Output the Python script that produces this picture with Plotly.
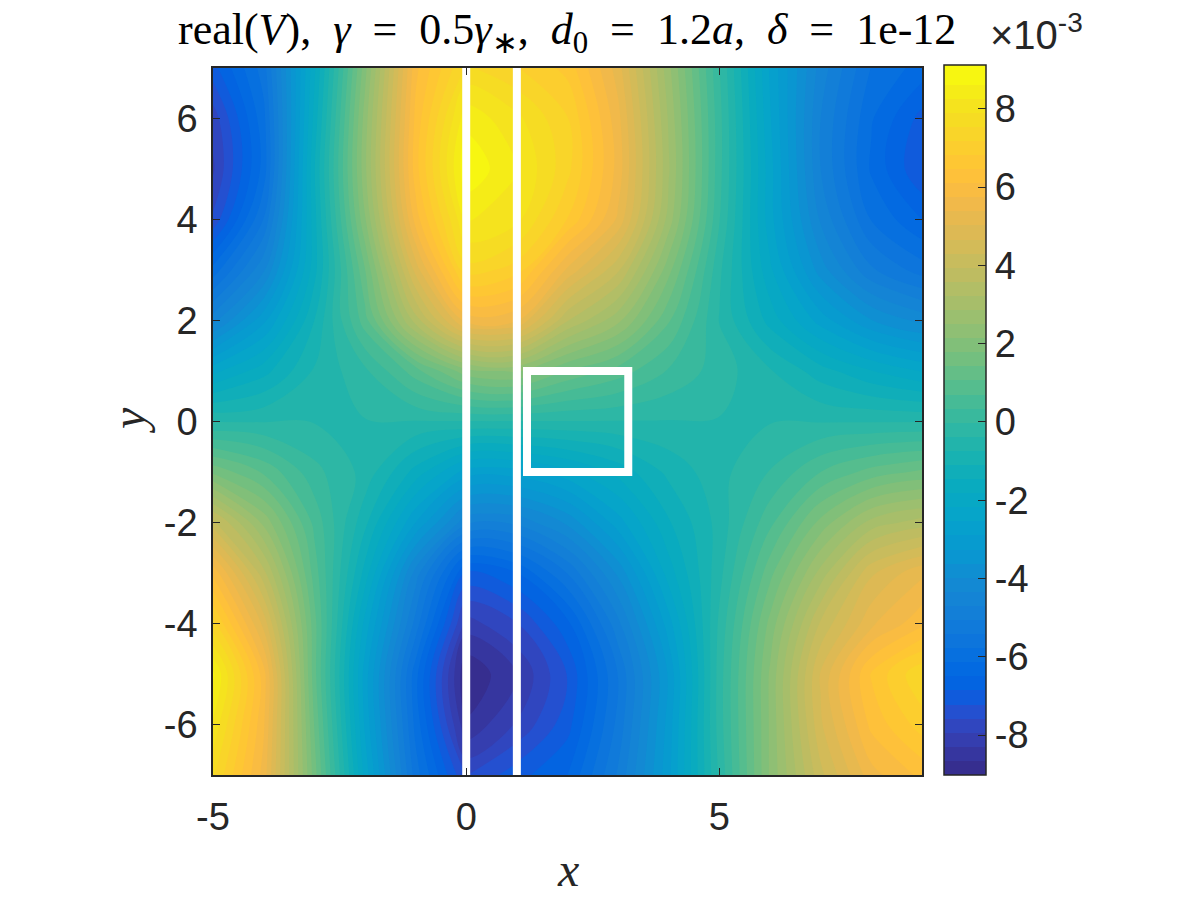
import plotly.graph_objects as go

x_values = [-5, -4, -3, -2, -1, 0, 1, 2, 3, 4, 5, 6, 7, 8, 9]
y_values = [7, 6, 5, 4, 3, 2, 1, 0, -1, -2, -3, -4, -5, -6, -7]
z_rows = [
    [-7.0, -5.6, -1.9, 2.0, 6.0, 7.6, 7.2, 6.7, 5.2, 2.6, 0.0, -2.6, -4.5, -5.8, -6.3],
    [-7.8, -5.9, -1.7, 2.3, 6.2, 8.5, 8.0, 7.2, 5.5, 2.8, 0.1, -2.5, -4.7, -6.1, -7.0],
    [-8.0, -6.0, -1.5, 2.4, 6.3, 8.9, 8.3, 7.3, 5.6, 2.9, 0.1, -2.4, -4.7, -6.2, -7.2],
    [-7.5, -5.4, -1.6, 2.1, 5.9, 8.3, 8.0, 6.8, 5.3, 2.7, 0.0, -2.4, -4.4, -5.8, -6.5],
    [-6.0, -4.4, -1.6, 1.4, 4.8, 7.4, 7.0, 5.3, 4.0, 1.9, -0.3, -2.1, -3.8, -5.0, -5.6],
    [-4.5, -3.0, -1.1, 0.9, 3.4, 5.5, 5.4, 3.6, 2.6, 1.1, -0.4, -1.6, -2.7, -3.6, -4.1],
    [-2.3, -1.6, -0.7, -0.1, 0.9, 2.0, 2.2, 1.4, 0.9, 0.3, -0.2, -0.7, -1.3, -1.8, -2.2],
    [-0.4, -0.4, -0.4, -0.4, -0.4, -0.4, -0.4, -0.4, -0.4, -0.4, -0.4, -0.4, -0.4, -0.4, -0.4],
    [1.7, 1.0, 0.1, -0.5, -1.6, -2.7, -2.7, -2.3, -1.7, -1.0, -0.5, 0.0, 0.7, 1.2, 1.5],
    [4.1, 2.4, 0.6, -1.0, -2.9, -4.6, -4.6, -3.9, -2.7, -1.5, -0.6, 0.6, 1.9, 3.0, 3.4],
    [6.0, 3.7, 0.9, -1.6, -4.5, -6.9, -6.5, -5.4, -3.9, -2.0, -0.5, 1.3, 3.0, 4.6, 5.3],
    [7.3, 4.9, 1.2, -2.3, -5.2, -8.1, -7.6, -6.6, -4.8, -2.7, -0.3, 1.9, 4.0, 5.3, 6.0],
    [8.7, 5.9, 1.2, -2.7, -6.0, -9.0, -8.3, -7.2, -5.4, -3.2, -0.2, 2.2, 4.7, 6.5, 7.5],
    [8.2, 5.8, 1.4, -2.6, -5.9, -8.6, -7.9, -7.0, -5.3, -3.1, -0.2, 2.2, 4.6, 6.2, 7.0],
    [7.6, 5.6, 1.6, -2.3, -5.6, -7.6, -7.0, -6.5, -5.0, -3.0, -0.3, 2.2, 4.2, 5.6, 6.2],
]
wall_x = [0, 1]
wall_y = [-7, 7]
box_x = [1.2, 3.2, 3.2, 1.2, 1.2, 3.2]
box_y = [-1, -1, 1, 1, -1, -1]
x_ticks = [-5, 0, 5]
y_ticks = [-6, -4, -2, 0, 2, 4, 6]
cbar_ticks = [-8, -6, -4, -2, 0, 2, 4, 6, 8]
z_min = -9.02
z_max = 9.12
parula = [
(.2081,.1663,.5292),(.2116,.1898,.5777),(.2123,.2138,.6270),(.2081,.2386,.6771),(.1959,.2645,.7279),(.1707,.2919,.7792),(.1253,.3242,.8303),(.0591,.3598,.8683),
(.0117,.3875,.8820),(.0060,.4086,.8828),(.0165,.4266,.8786),(.0329,.4430,.8720),(.0498,.4586,.8641),(.0629,.4737,.8554),(.0723,.4887,.8467),(.0779,.5040,.8384),
(.0793,.5200,.8312),(.0749,.5375,.8263),(.0641,.5570,.8240),(.0488,.5772,.8228),(.0343,.5966,.8199),(.0265,.6137,.8135),(.0239,.6287,.8038),(.0231,.6418,.7913),
(.0228,.6535,.7768),(.0267,.6642,.7607),(.0384,.6743,.7436),(.0590,.6838,.7254),(.0843,.6928,.7062),(.1133,.7015,.6859),(.1453,.7098,.6646),(.1801,.7177,.6424),
(.2178,.7250,.6193),(.2586,.7317,.5954),(.3022,.7376,.5712),(.3482,.7424,.5473),(.3953,.7459,.5244),(.4420,.7481,.5033),(.4871,.7491,.4840),(.5300,.7491,.4661),
(.5709,.7485,.4494),(.6099,.7473,.4337),(.6473,.7456,.4188),(.6834,.7435,.4044),(.7184,.7411,.3905),(.7525,.7384,.3768),(.7858,.7356,.3633),(.8185,.7327,.3498),
(.8507,.7299,.3360),(.8824,.7274,.3217),(.9139,.7258,.3063),(.9450,.7261,.2886),(.9739,.7314,.2666),(.9938,.7455,.2403),(.9990,.7653,.2164),(.9955,.7861,.1967),
(.9880,.8066,.1794),(.9789,.8271,.1633),(.9697,.8481,.1475),(.9626,.8705,.1309),(.9589,.8949,.1132),(.9598,.9218,.0948),(.9661,.9514,.0755),(.9763,.9831,.0538)]
colorscale = [[i / 63, "rgb(%d,%d,%d)" % tuple(round(c * 255) for c in p)] for i, p in enumerate(parula)]

INK = "#262626"
W, H = 1200, 900
ML, MR, MT, MB = 10, 10, 10, 10
def px(v):
    return (v - ML) / (W - ML - MR)
def py(v):
    return 1 - (v - MT) / (H - MT - MB)

fig = go.Figure()
fig.add_trace(go.Contour(
    x=x_values, y=y_values, z=z_rows, colorscale=colorscale, zmin=z_min, zmax=z_max,
    autocontour=False, contours=dict(start=z_min, end=z_max, size=0.36, coloring="fill", showlines=False),
    line=dict(width=0), hoverinfo="skip",
    colorbar=dict(
        x=px(944), xanchor="left", xpad=0, y=py(65), yanchor="top", ypad=0,
        lenmode="pixels", len=710, thicknessmode="pixels", thickness=42,
        tickvals=cbar_ticks, ticktext=[str(t) for t in cbar_ticks], ticks="inside", ticklen=8,
        tickcolor=INK, tickwidth=1, outlinecolor=INK, outlinewidth=1.5, ticklabelposition="outside",
        tickfont=dict(family="Liberation Sans", size=38, color=INK))))
for wx in wall_x:
    fig.add_trace(go.Scatter(x=[wx, wx], y=wall_y, mode="lines", line=dict(color="white", width=8),
                             showlegend=False, hoverinfo="skip"))
fig.add_trace(go.Scatter(x=box_x, y=box_y, mode="lines", line=dict(color="white", width=8, simplify=False),
                         showlegend=False, hoverinfo="skip"))
axis_style = dict(showgrid=False, zeroline=False, ticks="inside", ticklen=7, tickwidth=1, tickcolor=INK,
                  showline=True, linecolor=INK, linewidth=1.5, mirror="ticks",
                  tickfont=dict(family="Liberation Sans", size=38, color=INK))
sp = "\u00a0"
title = (f"real(<i>V</i>),{sp}{sp}<i>γ</i>{sp}{sp}={sp}{sp}0.5<i>γ</i><sub>∗</sub>,{sp}{sp}<i>d</i><sub>0</sub>{sp}{sp}={sp}{sp}1.2<i>a</i>,"
         f"{sp}{sp}<i>δ</i>{sp}{sp}={sp}{sp}1e-12")
fig.update_layout(
    width=W, height=H, margin=dict(l=ML, r=MR, t=MT, b=MB, autoexpand=False), paper_bgcolor="white", plot_bgcolor="white",
    showlegend=False,
    xaxis=dict(domain=[px(213), px(922)], range=[-5, 9], tickvals=x_ticks, ticktext=[str(t) for t in x_ticks], ticklabelstandoff=8, **axis_style),
    yaxis=dict(domain=[py(775), py(68)], range=[-7, 7], tickvals=y_ticks, ticktext=[str(t) for t in y_ticks], ticklabelstandoff=6, **axis_style),
    annotations=[
        dict(text=title, xref="paper", yref="paper", x=px(567), y=py(32), xanchor="center", yanchor="middle", showarrow=False,
             font=dict(family="Liberation Serif", size=44, color="black")),
        dict(text="×10<sup>-3</sup>", xref="paper", yref="paper", x=px(988), y=py(32), xanchor="left", yanchor="middle",
             showarrow=False, font=dict(family="Liberation Sans", size=40, color=INK)),
        dict(text="<i>x</i>", xref="paper", yref="paper", x=px(568), y=py(869), xanchor="center", yanchor="middle",
             showarrow=False, font=dict(family="Liberation Serif", size=48, color=INK)),
        dict(text="<i>y</i>", xref="paper", yref="paper", x=px(128), y=py(421), xanchor="center", yanchor="middle",
             textangle=-90, showarrow=False, font=dict(family="Liberation Serif", size=48, color=INK)),
    ])
fig.write_html("out.html", config={"displayModeBar": False},
               post_script="document.body.style.margin='0';document.body.style.overflow='hidden';")
